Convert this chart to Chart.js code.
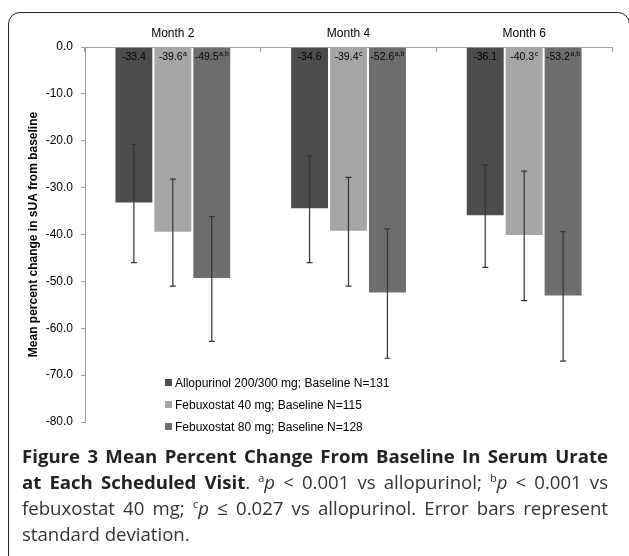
<!DOCTYPE html>
<html>
<head>
<meta charset="utf-8">
<script src="https://cdn.jsdelivr.net/npm/chart.js@4.4.0/dist/chart.umd.min.js"></script>
<style>
  html, body { margin: 0; padding: 0; background: #fff; }
  body { width: 629px; height: 556px; position: relative; overflow: hidden; }
  #frame {
    position: absolute; left: 8px; top: 12px; width: 622px; height: 580px;
    border: 1.5px solid #222; border-radius: 12px; box-sizing: border-box;
  }
  #wrap { position: absolute; left: 0; top: 0; width: 629px; height: 445px; }
  #legend {
    position: absolute; left: 165px; top: 376px;
    font: 12px "Liberation Sans", Arial, sans-serif; color: #000;
  }
  #legend div { height: 22px; line-height: 14px; }
  #legend span.sw { display: inline-block; width: 7px; height: 7px; margin-right: 3px; vertical-align: 1px; }
  #caption {
    position: absolute; left: 22px; top: 443px; width: 586px;
    font: 18.6px "Open Sans", sans-serif; line-height: 26px; color: #333;
  }
  #caption .ln { display: block; white-space: nowrap; text-align: justify; text-align-last: justify; }
  #caption .ln.last { text-align-last: left; }
  #caption b { color: #222; }
  #caption sup { font-size: 11px; line-height: 0; }
</style>
</head>
<body>
<div id="frame"></div>
<div id="wrap"><canvas id="myChart" width="629" height="445"></canvas></div>
<div id="legend"></div>
<div id="caption">
  <span class="ln"><b>Figure 3 Mean Percent Change From Baseline In Serum Urate</b></span>
  <span class="ln"><b>at Each Scheduled Visit</b>. <sup>a</sup><i>p</i> &lt; 0.001 vs allopurinol; <sup>b</sup><i>p</i> &lt; 0.001 vs</span>
  <span class="ln">febuxostat 40 mg; <sup>c</sup><i>p</i> &le; 0.027 vs allopurinol. Error bars represent</span>
  <span class="ln last">standard deviation.</span>
</div>

<script>
'use strict';

// <------------------ DATA ------------------>

let months = ['Month 2', 'Month 4', 'Month 6'];

let seriesNames = [
  'Allopurinol 200/300 mg; Baseline N=131',
  'Febuxostat 40 mg; Baseline N=115',
  'Febuxostat 80 mg; Baseline N=128'
];

let alloMean = [-33.4, -34.6, -36.1];
let feb40Mean = [-39.6, -39.4, -40.3];
let feb80Mean = [-49.5, -52.6, -53.2];

let alloSd = [12.6, 11.4, 10.9];
let feb40Sd = [11.4, 11.6, 13.8];
let feb80Sd = [13.3, 13.8, 13.8];

let alloSup = ['', '', ''];
let feb40Sup = ['a', 'c', 'c'];
let feb80Sup = ['a,b', 'a,b', 'a,b'];

let yTicks = [0, -10, -20, -30, -40, -50, -60, -70, -80];

let barColors = ['#4d4d4d', '#a6a6a6', '#6e6e6e'];

let allMeans = [alloMean, feb40Mean, feb80Mean];
let allSds = [alloSd, feb40Sd, feb80Sd];
let allSups = [alloSup, feb40Sup, feb80Sup];

const FONT = '"Liberation Sans", Arial, sans-serif';
Chart.defaults.font.family = FONT;
Chart.defaults.color = '#000';


// <------------------ PLUGINS ------------------>

// error bars, drawn from the y scale
const errorBars = {
  id: 'errorBars',
  afterDatasetsDraw(chart) {
    let ctx = chart.ctx;
    let y = chart.scales.y;
    ctx.save();
    ctx.strokeStyle = '#333';
    ctx.lineWidth = 1.2;
    for (let i = 0; i < chart.data.datasets.length; i++) {
      let meta = chart.getDatasetMeta(i);
      meta.data.forEach((bar, j) => {
        let m = allMeans[i][j];
        let sd = allSds[i][j];
        let top = y.getPixelForValue(m + sd);
        let bot = y.getPixelForValue(m - sd);
        ctx.beginPath();
        ctx.moveTo(bar.x, top);
        ctx.lineTo(bar.x, bot);
        ctx.moveTo(bar.x - 3, top);
        ctx.lineTo(bar.x + 3, top);
        ctx.moveTo(bar.x - 3, bot);
        ctx.lineTo(bar.x + 3, bot);
        ctx.stroke();
      });
    }
    ctx.restore();
  }
};

// value labels at the top of each bar
const barLabels = {
  id: 'barLabels',
  afterDatasetsDraw(chart) {
    let ctx = chart.ctx;
    let y0 = chart.scales.y.getPixelForValue(0);
    ctx.save();
    ctx.fillStyle = '#000';
    ctx.textBaseline = 'middle';
    ctx.textAlign = 'left';
    for (let i = 0; i < chart.data.datasets.length; i++) {
      let meta = chart.getDatasetMeta(i);
      meta.data.forEach((bar, j) => {
        let txt = allMeans[i][j].toFixed(1);
        let sup = allSups[i][j];
        ctx.font = '10.5px ' + FONT;
        let w1 = ctx.measureText(txt).width;
        ctx.font = '7px ' + FONT;
        let w2 = sup ? ctx.measureText(sup).width + 0.5 : 0;
        let x = bar.x - (w1 + w2) / 2;
        ctx.font = '10.5px ' + FONT;
        ctx.fillText(txt, x, y0 + 10);
        if (sup) {
          ctx.font = '7px ' + FONT;
          ctx.fillText(sup, x + w1 + 0.5, y0 + 7);
        }
      });
    }
    ctx.restore();
  }
};


// <------------------ CHART ------------------>

let ctx = document.getElementById('myChart').getContext('2d');

let datasets = [];
for (let i = 0; i < seriesNames.length; i++) {
  datasets.push({
    label: seriesNames[i],
    data: allMeans[i],
    backgroundColor: barColors[i],
    borderColor: 'rgba(255,255,255,0.5)',
    borderWidth: 1,
    categoryPercentage: 0.665,
    barPercentage: 1.0
  });
}

const myChart = new Chart(ctx, {
  type: 'bar',
  data: { labels: months, datasets: datasets },
  options: {
    responsive: false,
    animation: false,
    layout: { padding: { left: 26, top: 0, right: 17, bottom: 23 } },
    plugins: {
      legend: { display: false },
      tooltip: { enabled: false }
    },
    scales: {
      x: {
        position: 'top',
        offset: true,
        afterFit(scale) { scale.height = 47; },
        grid: {
          offset: true,
          drawOnChartArea: false,
          tickLength: -5,
          color: '#a0a0a0'
        },
        border: { color: '#a0a0a0' },
        ticks: { font: { size: 12 }, padding: 11, color: '#000' }
      },
      y: {
        min: -80,
        max: 0,
        afterFit(scale) { scale.width = 59; },
        afterBuildTicks(scale) { scale.ticks = yTicks.map(v => ({ value: v })); },
        grid: { drawOnChartArea: false, tickLength: 4, color: '#a0a0a0' },
        border: { color: '#a0a0a0' },
        ticks: {
          font: { size: 12 },
          padding: 8,
          color: '#000',
          callback: v => v.toFixed(1)
        },
        title: {
          display: true,
          text: 'Mean percent change in sUA from baseline',
          font: { size: 12, weight: 'bold' },
          padding: { top: 0, bottom: 0 }
        }
      }
    }
  },
  plugins: [errorBars, barLabels]
});


// <------------------ LEGEND ------------------>

let legendEl = document.getElementById('legend');
for (let i = 0; i < seriesNames.length; i++) {
  let row = document.createElement('div');
  let sw = document.createElement('span');
  sw.className = 'sw';
  sw.style.background = barColors[i];
  row.appendChild(sw);
  row.appendChild(document.createTextNode(seriesNames[i]));
  legendEl.appendChild(row);
}
</script>
</body>
</html>
